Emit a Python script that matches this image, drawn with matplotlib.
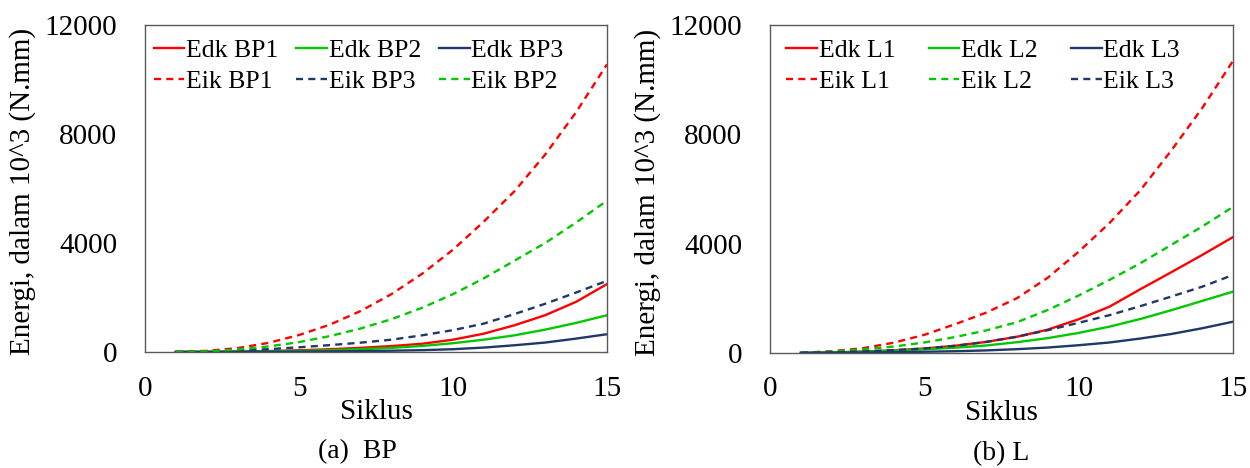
import matplotlib
matplotlib.use('Agg')
import matplotlib.pyplot as plt
import numpy as np

plt.rcParams['font.family'] = ['Liberation Serif', 'DejaVu Serif']

siklus = np.arange(1, 16)

# Panel (a) BP
edk_bp1 = [0, 5, 15, 30, 60, 100, 150, 215, 300, 450, 670, 980, 1350, 1840, 2490]
edk_bp2 = [0, 3, 10, 22, 40, 65, 100, 150, 220, 320, 450, 610, 820, 1065, 1347]
edk_bp3 = [0, 1, 3, 7, 13, 20, 30, 45, 65, 100, 160, 245, 345, 490, 650]
eik_bp1 = [0, 40, 140, 330, 620, 1000, 1500, 2120, 2870, 3750, 4780, 5900, 7250, 8800, 10550]
eik_bp2 = [0, 20, 90, 200, 360, 580, 860, 1200, 1620, 2120, 2700, 3350, 4000, 4750, 5550]
eik_bp3 = [0, 15, 50, 100, 170, 250, 340, 450, 610, 800, 1040, 1390, 1770, 2180, 2610]

# Panel (b) L
edk_l1 = [0, 15, 45, 95, 160, 260, 400, 590, 850, 1230, 1690, 2330, 2950, 3580, 4235]
edk_l2 = [0, 15, 40, 80, 130, 190, 270, 390, 540, 730, 960, 1240, 1560, 1900, 2240]
edk_l3 = [0, 5, 12, 25, 40, 60, 90, 135, 195, 280, 380, 525, 690, 900, 1140]
eik_l1 = [0, 60, 170, 370, 660, 1050, 1470, 2000, 2750, 3700, 4750, 5950, 7400, 8950, 10680]
eik_l2 = [0, 50, 130, 230, 380, 580, 820, 1120, 1570, 2100, 2670, 3280, 3950, 4620, 5340]
eik_l3 = [0, 20, 50, 100, 160, 260, 400, 590, 830, 1100, 1380, 1710, 2060, 2420, 2850]

merah = '#ff0000'
hijau = '#00c800'
biru = '#1f3868'
lw = 1.7
dash = (0, (3, 2.2))


def gambar(ax, seri, caption, cap_x, jarak_kolom, geser_legenda):
    for y, label, warna, gaya in seri:
        ax.plot(siklus, y, color=warna, lw=lw, linestyle=gaya, label=label)
    ax.set_xlim(0, 15)
    ax.set_ylim(0, 12000)
    ax.set_xticks([0, 5, 10, 15])
    ax.set_yticks([0, 4000, 8000, 12000])
    ax.tick_params(length=0, labelsize=21)
    ax.tick_params(axis='x', pad=17)
    ax.tick_params(axis='y', pad=20)
    for s in ax.spines.values():
        s.set_color('#5a5a5a')
        s.set_linewidth(1.0)
    ax.set_xlabel('Siklus', fontsize=21)
    ax.set_ylabel('Energi, dalam 10^3 (N.mm)', fontsize=21)
    ax.xaxis.set_label_coords(0.5, -0.145)
    ax.yaxis.set_label_coords(-0.236, 0.49)
    ax.legend(loc='upper left', ncol=3, frameon=False, fontsize=18.5,
              handlelength=1.2, handletextpad=0.05, columnspacing=jarak_kolom,
              labelspacing=0.3, borderaxespad=0.15,
              bbox_to_anchor=(geser_legenda, 1.0))
    ax.text(cap_x, -0.306, caption, transform=ax.transAxes, ha='center',
            va='center', fontsize=20)


fig = plt.figure(figsize=(12.5, 4.68), dpi=100)
ax1 = fig.add_axes([0.116, 0.248, 0.3696, 0.699])
ax2 = fig.add_axes([0.616, 0.246, 0.3704, 0.701])

# urutan kolom legenda: (Edk 1, Eik 1), (Edk 2, Eik 3), (Edk 3, Eik 2)
gambar(ax1, [
    (edk_bp1, 'Edk BP1', merah, '-'),
    (eik_bp1, 'Eik BP1', merah, dash),
    (edk_bp2, 'Edk BP2', hijau, '-'),
    (eik_bp3, 'Eik BP3', biru, dash),
    (edk_bp3, 'Edk BP3', biru, '-'),
    (eik_bp2, 'Eik BP2', hijau, dash),
], '(a)  BP', 0.46, 0.72, -0.012)

gambar(ax2, [
    (edk_l1, 'Edk L1', merah, '-'),
    (eik_l1, 'Eik L1', merah, dash),
    (edk_l2, 'Edk L2', hijau, '-'),
    (eik_l2, 'Eik L2', hijau, dash),
    (edk_l3, 'Edk L3', biru, '-'),
    (eik_l3, 'Eik L3', biru, dash),
], '(b) L', 0.5, 1.3, 0.005)

fig.savefig('out.png', dpi=100)
